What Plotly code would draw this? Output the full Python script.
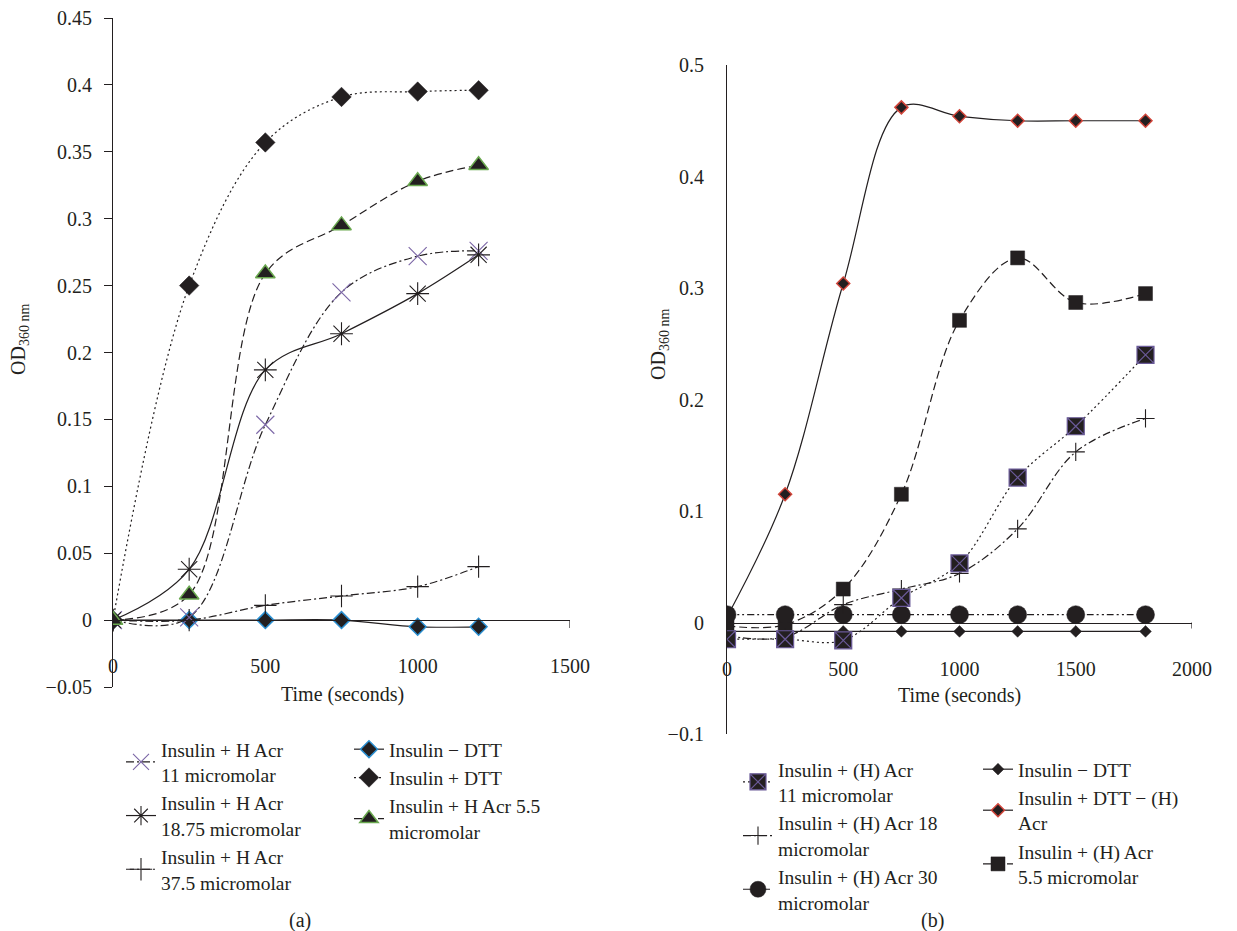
import plotly.graph_objects as go

W, H = 1237, 931

# ---------------- data : panel (a) ----------------
time_a = [0, 250, 500, 750, 1000, 1200]
a_hacr_11 = [0, 0.002, 0.146, 0.245, 0.272, 0.276]
a_hacr_1875 = [0, 0.038, 0.187, 0.214, 0.244, 0.273]
a_hacr_375 = [0, 0.0, 0.011, 0.018, 0.025, 0.040]
a_minus_dtt = [0, 0, 0, 0, -0.005, -0.005]
a_plus_dtt = [0, 0.25, 0.357, 0.391, 0.395, 0.396]
a_hacr_55 = [0, 0.019, 0.259, 0.295, 0.328, 0.340]

names_a = ["Insulin + H Acr<br>11 micromolar",
           "Insulin + H Acr<br>18.75 micromolar",
           "Insulin + H Acr<br>37.5 micromolar",
           "Insulin − DTT",
           "Insulin + DTT",
           "Insulin + H Acr 5.5<br>micromolar"]

# ---------------- data : panel (b) ----------------
time_b = [0, 250, 500, 750, 1000, 1250, 1500, 1800]
b_hacr_11 = [-0.015, -0.015, -0.016, 0.022, 0.053, 0.130, 0.176, 0.240]
b_hacr_18 = [-0.012, -0.013, 0.016, 0.030, 0.044, 0.084, 0.153, 0.183]
b_hacr_30 = [0.007, 0.007, 0.007, 0.007, 0.007, 0.007, 0.007, 0.007]
b_minus_dtt = [-0.008, -0.008, -0.008, -0.008, -0.008, -0.008, -0.008, -0.008]
b_dtt_minus_acr = [0.005, 0.115, 0.304, 0.462, 0.454, 0.450, 0.450, 0.450]
b_hacr_55 = [-0.003, -0.002, 0.030, 0.115, 0.271, 0.327, 0.287, 0.295]

names_b = ["Insulin + (H) Acr<br>11 micromolar",
           "Insulin + (H) Acr 18<br>micromolar",
           "Insulin + (H) Acr 30<br>micromolar",
           "Insulin − DTT",
           "Insulin + DTT − (H)<br>Acr",
           "Insulin + (H) Acr<br>5.5 micromolar"]

# ---------------- ticks ----------------
xa_ticks = [0, 500, 1000, 1500]
xa_text = ["0", "500", "1000", "1500"]
ya_ticks = [-0.05, 0, 0.05, 0.1, 0.15, 0.2, 0.25, 0.3, 0.35, 0.4, 0.45]
ya_text = ["−0.05", "0", "0.05", "0.1", "0.15", "0.2", "0.25", "0.3", "0.35", "0.4", "0.45"]
xb_ticks = [0, 500, 1000, 1500, 2000]
xb_text = ["0", "500", "1000", "1500", "2000"]
yb_ticks = [-0.1, 0, 0.1, 0.2, 0.3, 0.4, 0.5]
yb_text = ["−0.1", "0", "0.1", "0.2", "0.3", "0.4", "0.5"]

# ---------------- styling ----------------
INK = "#231f20"
PURPLE = "#7b66a6"
BLUE = "#2b8fd1"
GREEN = "#6aa84f"
RED = "#d2453a"
FONT = "Liberation Serif"
FS = 20
LFS = 19.5
LW = 1.2

XA_RANGE = [0, 1500]
YA_RANGE = [-0.05, 0.45]
XB_RANGE = [0, 2000]
YB_RANGE = [-0.1, 0.5]

# plot-area pixel boxes
xa_px = (113, 570); ya_px = (18, 687)
xb_px = (727, 1192); yb_px = (65, 734)


def px_x(p):
    return p / W


def px_y(p):
    return 1 - p / H


xa_dom = [px_x(xa_px[0]), px_x(xa_px[1])]
ya_dom = [px_y(ya_px[1]), px_y(ya_px[0])]
xb_dom = [px_x(xb_px[0]), px_x(xb_px[1])]
yb_dom = [px_y(yb_px[1]), px_y(yb_px[0])]

pos_a = ya_dom[0] + (0 - YA_RANGE[0]) / (YA_RANGE[1] - YA_RANGE[0]) * (ya_dom[1] - ya_dom[0])
pos_b = yb_dom[0] + (0 - YB_RANGE[0]) / (YB_RANGE[1] - YB_RANGE[0]) * (yb_dom[1] - yb_dom[0])

fig = go.Figure()


def add(x, y, name, xa, ya, legend, dash, symbol, size, fill, lcolor, lwidth, rank):
    fig.add_trace(go.Scatter(
        x=x, y=y, name=name, xaxis=xa, yaxis=ya, legend=legend, legendrank=rank,
        mode="lines+markers",
        line=dict(color=INK, width=LW, dash=dash, shape="spline", smoothing=1.0),
        marker=dict(symbol=symbol, size=size, color=fill,
                    line=dict(color=lcolor, width=lwidth)),
    ))


DOT = "2px,3px"
DASH = "8px,4px"
DASHDOT = "8px,3px,2px,3px"
DASHDOTDOT = "7px,3px,2px,3px,2px,3px"

# panel (a)
add(time_a, a_minus_dtt, names_a[3], "x", "y", "legend2", "solid", "diamond", 13, INK, BLUE, 1.5, 1)
add(time_a, a_hacr_375, names_a[2], "x", "y", "legend", DASHDOT, "cross-thin-open", 16, INK, INK, 1.1, 3)
add(time_a, a_hacr_11, names_a[0], "x", "y", "legend", DASHDOT, "x-thin-open", 18, PURPLE, PURPLE, 1.1, 1)
add(time_a, a_hacr_1875, names_a[1], "x", "y", "legend", "solid", "asterisk-open", 19, INK, INK, 1.1, 2)
add(time_a, a_plus_dtt, names_a[4], "x", "y", "legend2", DOT, "diamond", 15, INK, INK, 0.5, 2)
add(time_a, a_hacr_55, names_a[5], "x", "y", "legend2", DASH, "triangle-up", 17, INK, GREEN, 1.5, 3)

# panel (b)
add(time_b, b_minus_dtt, names_b[3], "x2", "y2", "legend4", "solid", "diamond", 9, INK, INK, 0.5, 1)
add(time_b, b_dtt_minus_acr, names_b[4], "x2", "y2", "legend4", "solid", "diamond", 10, INK, RED, 1.5, 2)
add(time_b, b_hacr_55, names_b[5], "x2", "y2", "legend4", DASH, "square", 14, INK, INK, 0.5, 3)
add(time_b, b_hacr_30, names_b[2], "x2", "y2", "legend3", DASHDOTDOT, "circle", 18, INK, INK, 0.5, 3)
add(time_b, b_hacr_18, names_b[1], "x2", "y2", "legend3", DASHDOT, "cross-thin-open", 13, INK, INK, 1.1, 2)
add(time_b, b_hacr_11, names_b[0], "x2", "y2", "legend3", DOT, "square-x", 17, INK, "#6a5a98", 1.2, 1)

axis_common = dict(showgrid=False, zeroline=False, showline=True, linecolor=INK,
                   linewidth=LW, automargin=False,
                   tickfont=dict(family=FONT, size=FS, color=INK))

fig.update_layout(
    width=W, height=H,
    margin=dict(l=0, r=0, t=0, b=0),
    paper_bgcolor="white", plot_bgcolor="white",
    font=dict(family=FONT, size=FS, color=INK),
    xaxis=dict(domain=xa_dom, range=XA_RANGE, anchor="free", position=pos_a,
               tickvals=xa_ticks, ticktext=xa_text, ticks="", ticklabelstandoff=28,
               **axis_common),
    yaxis=dict(domain=ya_dom, range=YA_RANGE, anchor="x",
               tickvals=ya_ticks, ticktext=ya_text, ticks="outside", ticklen=8,
               tickcolor=INK, tickwidth=LW, ticklabelstandoff=8, **axis_common),
    xaxis2=dict(domain=xb_dom, range=XB_RANGE, anchor="free", position=pos_b,
                tickvals=xb_ticks, ticktext=xb_text, ticks="", ticklabelstandoff=28,
                **axis_common),
    yaxis2=dict(domain=yb_dom, range=YB_RANGE, anchor="x2",
                tickvals=yb_ticks, ticktext=yb_text, ticks="", ticklabelstandoff=18,
                **axis_common),
)

legend_common = dict(bgcolor="rgba(0,0,0,0)", borderwidth=0, orientation="v",
                     xanchor="left", yanchor="top", itemwidth=30, traceorder="normal",
                     font=dict(family=FONT, size=LFS, color=INK), tracegroupgap=0)
fig.update_layout(
    legend=dict(x=px_x(121), y=px_y(730), **legend_common),
    legend2=dict(x=px_x(349), y=px_y(730), **legend_common),
    legend3=dict(x=px_x(738), y=px_y(750), **legend_common),
    legend4=dict(x=px_x(978), y=px_y(750), **legend_common),
)

# end ticks on the x axes
fig.add_shape(type="line", xref="x", yref="paper", x0=XA_RANGE[1], x1=XA_RANGE[1],
              y0=pos_a, y1=pos_a - 8 / H, line=dict(color=INK, width=LW))
fig.add_shape(type="line", xref="x2", yref="paper", x0=XB_RANGE[1], x1=XB_RANGE[1],
              y0=pos_b, y1=pos_b - 6 / H, line=dict(color=INK, width=LW))

ann = [
    dict(text="Time (seconds)", x=px_x(342), y=px_y(694)),
    dict(text="Time (seconds)", x=px_x(959), y=px_y(695)),
    dict(text="OD<sub>360 nm</sub>", x=px_x(19), y=px_y(340), textangle=-90),
    dict(text="OD<sub>360 nm</sub>", x=px_x(660), y=px_y(345), textangle=-90),
    dict(text="(a)", x=px_x(300), y=px_y(920)),
    dict(text="(b)", x=px_x(932), y=px_y(920)),
]
for a in ann:
    fig.add_annotation(xref="paper", yref="paper", showarrow=False,
                       xanchor="center", yanchor="middle",
                       font=dict(family=FONT, size=FS, color=INK), **a)

fig.write_html("out.html", config={"displayModeBar": False},
               post_script="document.body.style.margin='0';")
